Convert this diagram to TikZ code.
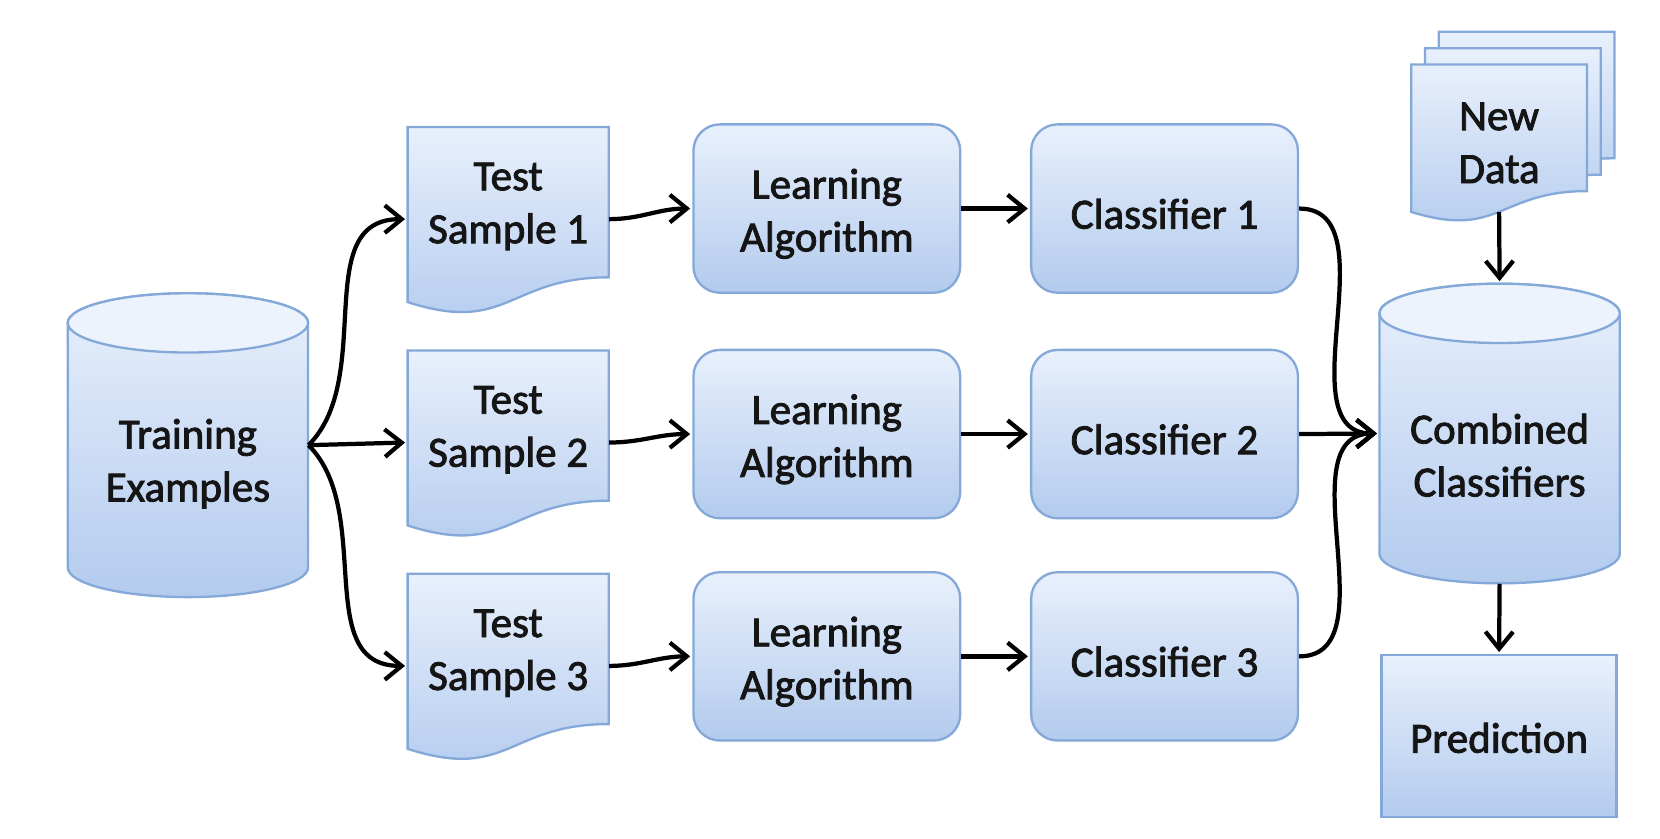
\documentclass[tikz,border=0pt]{standalone}
\usepackage{fontspec}
\setmainfont{Carlito}
\newfontfamily\boxfont{Carlito}[FakeBold=2]
\usetikzlibrary{arrows.meta}
\definecolor{boxtop}{HTML}{E8F0FC}
\definecolor{boxbot}{HTML}{B3CBEE}
\definecolor{boxline}{HTML}{84A9D8}
\definecolor{captop}{HTML}{EDF3FC}
\definecolor{txtcol}{HTML}{151515}
\tikzset{
  shapefill/.style={top color=boxtop, bottom color=boxbot, draw=boxline, line width=1.1pt},
  rbox/.style={shapefill, rounded corners=12.5pt, minimum width=126pt, minimum height=79.5pt, inner sep=0pt},
  anchorbox/.style={inner sep=0pt, draw=none},
  txt/.style={font=\boxfont\fontsize{20.3pt}{25pt}\selectfont, text=txtcol, align=center, inner sep=0pt},
  conn/.style={line width=2pt, -{Straight Barb[length=8pt,width=13pt,line width=2pt]}},
}
\newcommand{\mydocshape}[4]{\draw[shapefill] (#1,#2) -- ({#1+#3},#2) -- ({#1+#3},{#2+0.802*#4}) .. controls ({#1+0.5*#3},{#2+0.802*#4}) and ({#1+0.5*#3},{#2+1.1075*#4}) .. (#1,{#2+0.934*#4}) -- cycle;}
\begin{document}
\begin{tikzpicture}[x=0.5pt,y=-0.5pt]
\useasboundingbox (0,0) rectangle (1568,792);
\fill[white] (0,0) rectangle (1568,792);

% Training cylinder
\draw[shapefill] (64,305) -- (64,536) arc[start angle=180,end angle=360,x radius=56.75pt,y radius=14pt] -- (291,305) arc[start angle=0,end angle=180,x radius=56.75pt,y radius=14pt] -- cycle;
\draw[boxline, line width=1.1pt, fill=captop] (177.5,305) ellipse[x radius=56.75pt, y radius=14pt];
\node[anchorbox, minimum width=113.5pt, minimum height=143.5pt] (train) at (177.5,420.5) {};
\node[txt] (traintxt) at (177.5,438) {Training\\Examples};

% Combined cylinder
\draw[shapefill] (1303,296) -- (1303,523) arc[start angle=180,end angle=360,x radius=56.75pt,y radius=14pt] -- (1530,296) arc[start angle=0,end angle=180,x radius=56.75pt,y radius=14pt] -- cycle;
\draw[boxline, line width=1.1pt, fill=captop] (1416.5,296) ellipse[x radius=56.75pt, y radius=14pt];
\node[anchorbox, minimum width=113.5pt, minimum height=141.5pt] (comb) at (1416.5,409.5) {};
\node[txt] (combtxt) at (1416.5,430) {Combined\\Classifiers};

% Test samples
\mydocshape{385}{120}{190}{177}
\mydocshape{385}{331}{190}{177}
\mydocshape{385}{542}{190}{177}
\node[anchorbox, minimum width=95pt, minimum height=87pt] (t1) at (480,207) {};
\node[anchorbox, minimum width=95pt, minimum height=87pt] (t2) at (480,418) {};
\node[anchorbox, minimum width=95pt, minimum height=87pt] (t3) at (480,629) {};
\node[txt] at (480,195) {Test\\Sample 1};
\node[txt] at (480,406) {Test\\Sample 2};
\node[txt] at (480,617) {Test\\Sample 3};

% Learning algorithm
\node[rbox] (l1) at (781,197) {};
\node[rbox] (l2) at (781,410) {};
\node[rbox] (l3) at (781,620) {};
\node[txt] at (781,202) {Learning\\Algorithm};
\node[txt] at (781,415) {Learning\\Algorithm};
\node[txt] at (781,625) {Learning\\Algorithm};

% Classifiers
\node[rbox] (c1) at (1100,197) {};
\node[rbox] (c2) at (1100,410) {};
\node[rbox] (c3) at (1100,620) {};
\node[txt] at (1100,202) {Classifier 1};
\node[txt] at (1100,415) {Classifier 2};
\node[txt] at (1100,625) {Classifier 3};

% New Data stack
\mydocshape{1359}{30}{166}{149}
\mydocshape{1346}{45.5}{166}{149}
\mydocshape{1333}{61}{166}{149}
\node[anchorbox, minimum width=83pt, minimum height=69.5pt] (nd) at (1416,130.5) {};
\node[txt] at (1416,135) {New\\Data};

% Prediction
\node[shapefill, minimum width=111pt, minimum height=76.5pt, inner sep=0pt] (pred) at (1416,695.5) {};
\node[txt] at (1416,697) {Prediction};

% Connectors
\draw[conn] (train.east) to[out=45,in=180] ([xshift=-1pt]t1.west);
\draw[conn] (train.east) -- ([xshift=-1pt]t2.west);
\draw[conn] (train.east) to[out=-45,in=180] ([xshift=-1pt]t3.west);

\draw[conn] (t1.east) to[out=0,in=180] ([xshift=-1pt]l1.west);
\draw[conn] (t2.east) to[out=0,in=180] ([xshift=-1pt]l2.west);
\draw[conn] (t3.east) to[out=0,in=180] ([xshift=-1pt]l3.west);

\draw[conn] (l1.east) -- ([xshift=-1pt]c1.west);
\draw[conn] (l2.east) -- ([xshift=-1pt]c2.west);
\draw[conn] (l3.east) -- ([xshift=-1pt]c3.west);

\draw[conn] (c1.east) to[out=0,in=180] ([xshift=-1pt]comb.west);
\draw[conn] (c2.east) -- ([xshift=-1pt]comb.west);
\draw[conn] (c3.east) to[out=0,in=180] ([xshift=-1pt]comb.west);

\draw[conn] (nd.south) -- ([yshift=1pt]comb.north);
\draw[conn] (comb.south) -- ([yshift=1pt]pred.north);
\end{tikzpicture}
\end{document}
